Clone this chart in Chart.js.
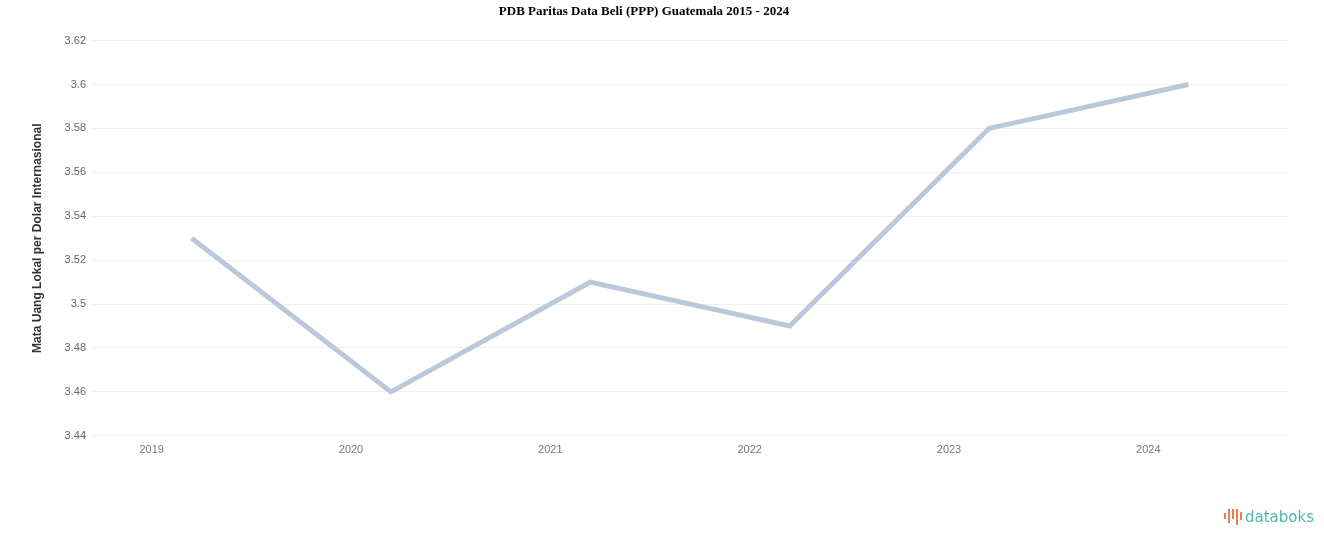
<!DOCTYPE html>
<html>
<head>
<meta charset="utf-8">
<script src="https://cdn.jsdelivr.net/npm/chart.js@4"></script>
<style>
  html, body { margin: 0; padding: 0; background: #fff; }
  #wrap { position: relative; width: 1324px; height: 547px; }
  #logo { position: absolute; left: 1224px; top: 508px; display: flex; align-items: center; font-family: "DejaVu Sans", sans-serif; font-size: 15px; color: #4db6ae; }
  #logo .bars { display: flex; align-items: flex-start; gap: 2px; margin-right: 3px; height: 16px; }
  #logo .bars span { display: block; width: 2px; background: #f07a55; }
</style>
</head>
<body>
<div id="wrap">
  <canvas id="chart" width="1324" height="547"></canvas>
  <div id="logo">
    <div class="bars">
      <span style="height:6px;margin-top:4px"></span>
      <span style="height:14px"></span>
      <span style="height:10px"></span>
      <span style="height:16px"></span>
      <span style="height:8px;margin-top:3px"></span>
    </div>
    <span>databoks</span>
  </div>
</div>
<script>
// Données
const years = ['2019', '2020', '2021', '2022', '2023', '2024'];
const values = [3.53, 3.46, 3.51, 3.49, 3.58, 3.60];
const yMin = 3.44;
const yMax = 3.62;
const yStep = 0.02;

const ctx = document.getElementById('chart');

new Chart(ctx, {
    type: 'line',
    data: {
        labels: years,
        datasets: [{
            data: values,
            borderColor: '#b9c9da',
            borderWidth: 5,
            pointRadius: 0,
            tension: 0,
            fill: false
        }]
    },
    options: {
        responsive: false,
        animation: false,
        layout: { padding: { left: 0, right: 36, top: 0, bottom: 82 } },
        plugins: {
            legend: { display: false },
            tooltip: { enabled: false },
            title: {
                display: true,
                text: 'PDB Paritas Data Beli (PPP) Guatemala 2015 - 2024',
                color: '#000',
                font: { family: 'Liberation Serif', size: 13, weight: 'bold' },
                padding: { top: 4, bottom: 21 }
            }
        },
        scales: {
            x: {
                offset: true,
                grid: { display: false, drawTicks: false },
                border: { display: false },
                ticks: {
                    color: '#777',
                    font: { family: 'Liberation Sans', size: 11 },
                    labelOffset: -40,
                    padding: 8
                }
            },
            y: {
                min: yMin,
                max: yMax,
                grid: { color: '#f0f0f0', drawTicks: false },
                border: { display: false },
                ticks: {
                    stepSize: yStep,
                    color: '#666',
                    padding: 6,
                    font: { family: 'Liberation Sans', size: 11 },
                    callback: (v) => parseFloat(v.toFixed(2)).toString()
                },
                title: {
                    display: true,
                    text: 'Mata Uang Lokal per Dolar Internasional',
                    color: '#333',
                    font: { family: 'Liberation Sans', size: 12, weight: 'bold' },
                    padding: { top: 30, bottom: 14 }
                },
                afterFit: (scale) => { scale.width = 92; }
            }
        }
    }
});
</script>
</body>
</html>
